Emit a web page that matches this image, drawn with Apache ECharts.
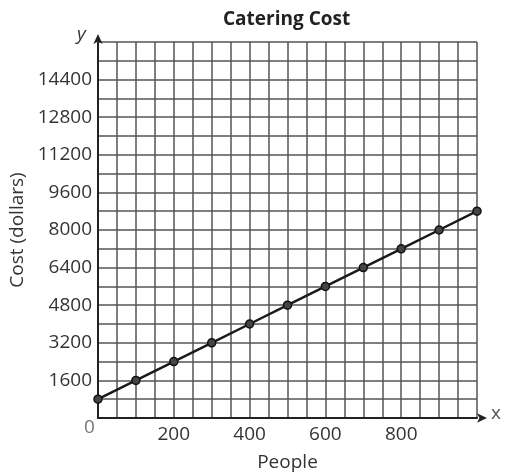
<!DOCTYPE html>
<html>
<head>
<meta charset="utf-8">
<script src="https://cdn.jsdelivr.net/npm/echarts@6/dist/echarts.min.js"></script>
<style>
  html, body { margin: 0; padding: 0; background: #fff; }
  #main { width: 507px; height: 473px; }
</style>
</head>
<body>
<div id="main"></div>
<script>
// people served vs cost in dollars
var people = [0, 100, 200, 300, 400, 500, 600, 700, 800, 900, 1000];
var cost = [800, 1600, 2400, 3200, 4000, 4800, 5600, 6400, 7200, 8000, 8800];
var xLabels = [200, 400, 600, 800];
var yLabels = [1600, 3200, 4800, 6400, 8000, 9600, 11200, 12800, 14400];

var FONT = '"Open Sans"';
var myChart = echarts.init(document.getElementById('main'));

myChart.setOption({
  animation: false,
  title: {
    text: 'Catering Cost',
    left: 218,
    top: 5,
    textStyle: { fontFamily: FONT, fontSize: 19, fontWeight: 'bold', color: '#222' }
  },
  grid: { left: 98, right: 30, top: 42, bottom: 55, outerBoundsMode: 'none', containLabel: false },
  xAxis: {
    type: 'value',
    min: 0,
    max: 1000,
    interval: 50,
    name: 'People',
    nameLocation: 'middle',
    nameGap: 35,
    nameTextStyle: { fontFamily: FONT, fontSize: 19, color: '#333' },
    axisLine: {
      show: true,
      symbol: ['none', 'arrow'],
      symbolSize: [7, 10],
      symbolOffset: [0, 10],
      lineStyle: { color: '#222', width: 2 }
    },
    axisTick: { show: false },
    axisLabel: {
      fontFamily: FONT, fontSize: 19, color: '#333', margin: 7,
      formatter: function (v) { return xLabels.indexOf(v) >= 0 ? String(v) : ''; }
    },
    splitLine: { show: true, lineStyle: { color: '#555', width: 1.5 } }
  },
  yAxis: {
    type: 'value',
    min: 0,
    max: 16000,
    interval: 800,
    name: 'Cost (dollars)',
    nameLocation: 'middle',
    nameGap: 63,
    nameTextStyle: { fontFamily: FONT, fontSize: 19, color: '#333' },
    axisLine: {
      show: true,
      symbol: ['none', 'arrow'],
      symbolSize: [7, 10],
      symbolOffset: [0, 8],
      lineStyle: { color: '#222', width: 2 }
    },
    axisTick: { show: false },
    axisLabel: {
      fontFamily: FONT, fontSize: 19, color: '#333', margin: 6,
      formatter: function (v) { return yLabels.indexOf(v) >= 0 ? String(v) : ''; }
    },
    splitLine: { show: true, lineStyle: { color: '#555', width: 1.5 } }
  },
  graphic: [
    { type: 'text', left: 84, top: 418, style: { text: '0', font: '19px ' + FONT, fill: '#777' } },
    { type: 'text', left: 77, top: 25, style: { text: 'y', font: 'italic 19px ' + FONT, fill: '#333' } },
    { type: 'text', left: 491, top: 404, style: { text: 'x', font: '19px ' + FONT, fill: '#555' } }
  ],
  series: [{
    type: 'line',
    data: people.map(function (p, i) { return [p, cost[i]]; }),
    symbol: 'circle',
    symbolSize: 8,
    lineStyle: { color: '#1a1a1a', width: 2.5 },
    itemStyle: { color: '#444', borderColor: '#111', borderWidth: 1.5 }
  }]
});
</script>
</body>
</html>
